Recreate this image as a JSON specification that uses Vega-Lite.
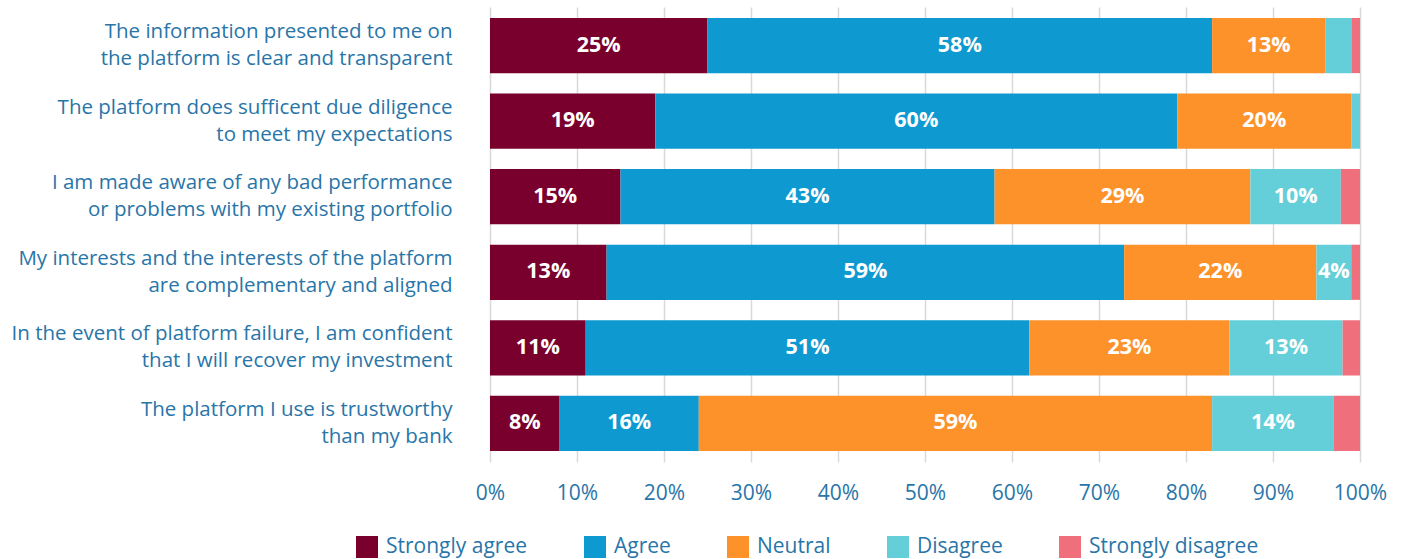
{
  "$schema": "https://vega.github.io/schema/vega-lite/v6.json",
  "width": 870,
  "height": 455,
  "autosize": {"type": "none"},
  "padding": {"left": 490, "top": 7, "right": 45, "bottom": 97},
  "background": "white",
  "config": {"view": {"stroke": null}, "font": "Open Sans"},
  "data": {
    "values": [
      {"question": "The information presented to me on\u00a0|the platform is clear and transparent", "category": "Strongly agree", "order": 1, "value": 0.25},
      {"question": "The information presented to me on\u00a0|the platform is clear and transparent", "category": "Agree", "order": 2, "value": 0.58},
      {"question": "The information presented to me on\u00a0|the platform is clear and transparent", "category": "Neutral", "order": 3, "value": 0.13},
      {"question": "The information presented to me on\u00a0|the platform is clear and transparent", "category": "Disagree", "order": 4, "value": 0.03},
      {"question": "The information presented to me on\u00a0|the platform is clear and transparent", "category": "Strongly disagree", "order": 5, "value": 0.01},
      {"question": "The platform does sufficent due diligence\u00a0|to meet my expectations", "category": "Strongly agree", "order": 1, "value": 0.19},
      {"question": "The platform does sufficent due diligence\u00a0|to meet my expectations", "category": "Agree", "order": 2, "value": 0.60},
      {"question": "The platform does sufficent due diligence\u00a0|to meet my expectations", "category": "Neutral", "order": 3, "value": 0.20},
      {"question": "The platform does sufficent due diligence\u00a0|to meet my expectations", "category": "Disagree", "order": 4, "value": 0.01},
      {"question": "The platform does sufficent due diligence\u00a0|to meet my expectations", "category": "Strongly disagree", "order": 5, "value": 0.0},
      {"question": "I am made aware of any bad performance\u00a0|or problems with my existing portfolio", "category": "Strongly agree", "order": 1, "value": 0.15},
      {"question": "I am made aware of any bad performance\u00a0|or problems with my existing portfolio", "category": "Agree", "order": 2, "value": 0.43},
      {"question": "I am made aware of any bad performance\u00a0|or problems with my existing portfolio", "category": "Neutral", "order": 3, "value": 0.294},
      {"question": "I am made aware of any bad performance\u00a0|or problems with my existing portfolio", "category": "Disagree", "order": 4, "value": 0.104},
      {"question": "I am made aware of any bad performance\u00a0|or problems with my existing portfolio", "category": "Strongly disagree", "order": 5, "value": 0.022},
      {"question": "My interests and the interests of the platform\u00a0|are complementary and aligned", "category": "Strongly agree", "order": 1, "value": 0.134},
      {"question": "My interests and the interests of the platform\u00a0|are complementary and aligned", "category": "Agree", "order": 2, "value": 0.5949},
      {"question": "My interests and the interests of the platform\u00a0|are complementary and aligned", "category": "Neutral", "order": 3, "value": 0.221},
      {"question": "My interests and the interests of the platform\u00a0|are complementary and aligned", "category": "Disagree", "order": 4, "value": 0.04},
      {"question": "My interests and the interests of the platform\u00a0|are complementary and aligned", "category": "Strongly disagree", "order": 5, "value": 0.0101},
      {"question": "In the event of platform failure, I am confident|that I will recover my investment", "category": "Strongly agree", "order": 1, "value": 0.11},
      {"question": "In the event of platform failure, I am confident|that I will recover my investment", "category": "Agree", "order": 2, "value": 0.51},
      {"question": "In the event of platform failure, I am confident|that I will recover my investment", "category": "Neutral", "order": 3, "value": 0.23},
      {"question": "In the event of platform failure, I am confident|that I will recover my investment", "category": "Disagree", "order": 4, "value": 0.13},
      {"question": "In the event of platform failure, I am confident|that I will recover my investment", "category": "Strongly disagree", "order": 5, "value": 0.02},
      {"question": "The platform I use is trustworthy\u00a0|than my bank", "category": "Strongly agree", "order": 1, "value": 0.08},
      {"question": "The platform I use is trustworthy\u00a0|than my bank", "category": "Agree", "order": 2, "value": 0.16},
      {"question": "The platform I use is trustworthy\u00a0|than my bank", "category": "Neutral", "order": 3, "value": 0.59},
      {"question": "The platform I use is trustworthy\u00a0|than my bank", "category": "Disagree", "order": 4, "value": 0.14},
      {"question": "The platform I use is trustworthy\u00a0|than my bank", "category": "Strongly disagree", "order": 5, "value": 0.03}
    ]
  },
  "transform": [
    {"stack": "value", "groupby": ["question"], "sort": [{"field": "order", "order": "ascending"}], "as": ["x0", "x1"]}
  ],
  "encoding": {
    "y": {
      "field": "question",
      "type": "nominal",
      "sort": null,
      "scale": {"paddingInner": 0.27, "paddingOuter": 0.145},
      "axis": {
        "title": null,
        "domain": false,
        "ticks": false,
        "grid": false,
        "labelPadding": 38,
        "labelFontSize": 20.5,
        "labelColor": "#2975a8",
        "labelLimit": 0,
        "labelLineHeight": 27,
        "labelOffset": -13.5,
        "labelExpr": "split(datum.label, '|')"
      }
    }
  },
  "layer": [
    {
      "mark": {"type": "bar"},
      "encoding": {
        "x": {
          "field": "x0",
          "type": "quantitative",
          "scale": {"domain": [0, 1], "nice": false},
          "axis": {
            "title": null,
            "format": ".0%",
            "values": [0, 0.1, 0.2, 0.3, 0.4, 0.5, 0.6, 0.7, 0.8, 0.9, 1],
            "grid": true,
            "gridColor": "#d9d9d9",
            "gridWidth": 1.5,
            "domain": false,
            "ticks": false,
            "labelPadding": 20,
            "labelFontSize": 21,
            "labelColor": "#2975a8",
            "labelFlush": false
          }
        },
        "x2": {"field": "x1"},
        "color": {
          "field": "category",
          "type": "nominal",
          "scale": {
            "domain": ["Strongly agree", "Agree", "Neutral", "Disagree", "Strongly disagree"],
            "range": ["#79002d", "#0e9ad0", "#fd922b", "#64cfd9", "#ef6f7c"]
          },
          "legend": {
            "title": null,
            "orient": "none",
            "legendX": -134,
            "legendY": 529,
            "direction": "horizontal",
            "symbolType": "square",
            "symbolSize": 484,
            "symbolStrokeWidth": 0,
            "symbolOpacity": 1,
            "labelFontSize": 21,
            "labelColor": "#2975a8",
            "labelLimit": 0,
            "labelOffset": 8,
            "columnPadding": 56
          }
        }
      }
    },
    {
      "transform": [
        {"filter": "datum.value >= 0.035"},
        {"fold": ["x0", "x1"], "as": ["edge", "pos"]},
        {"aggregate": [{"op": "mean", "field": "pos", "as": "mid"}], "groupby": ["question", "category", "value"]}
      ],
      "mark": {"type": "text", "color": "white", "fontWeight": "bold", "fontSize": 21.5},
      "encoding": {
        "x": {"field": "mid", "type": "quantitative"},
        "text": {"field": "value", "type": "quantitative", "format": ".0%"}
      }
    }
  ]
}
